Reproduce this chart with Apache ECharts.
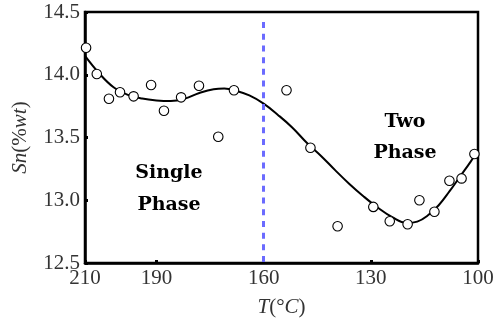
<!DOCTYPE html>
<html><head><meta charset="utf-8">
<script src="https://cdn.jsdelivr.net/npm/echarts@6/dist/echarts.min.js"></script>
<style>html,body{margin:0;padding:0;background:#fff}#c{width:493px;height:323px}</style>
</head><body><div id="c"></div>
<script>
// measured points: temperature (°C), Sn (%wt)
const pointT  = [209.7, 206.7, 203.3, 200.2, 196.4, 191.5, 187.9, 183.1, 178.1, 172.7, 168.3, 153.6, 146.9, 139.3, 129.3, 124.7, 119.7, 116.4, 112.2, 108.0, 104.6, 101.0];
const pointSn = [14.215, 14.006, 13.809, 13.86, 13.828, 13.918, 13.713, 13.82, 13.912, 13.506, 13.876, 13.876, 13.418, 12.793, 12.947, 12.833, 12.809, 13.0, 12.908, 13.155, 13.174, 13.368];
// fitted curve
const curveT  = [210, 206, 202, 198, 194, 190, 186, 182, 178, 174, 171, 168, 164, 160, 156, 152, 148, 144, 140, 136, 132, 128, 124, 120, 117, 114, 111, 108, 105, 102, 100];
const curveSn = [14.15, 14.01, 13.90, 13.84, 13.81, 13.795, 13.79, 13.81, 13.855, 13.885, 13.89, 13.875, 13.835, 13.77, 13.68, 13.58, 13.46, 13.355, 13.24, 13.13, 13.03, 12.94, 12.865, 12.82, 12.83, 12.88, 12.96, 13.07, 13.19, 13.31, 13.40];
const xTicks = [210, 190, 160, 130, 100];
const yTicks = [12.5, 13.0, 13.5, 14.0, 14.5];
const boundaryT = 160;

const chart = echarts.init(document.getElementById('c'), null, {renderer: 'canvas'});
const serif = 'Liberation Serif';
chart.setOption({
  animation: false,
  grid: {left: 85, right: 15, top: 12, bottom: 60, containLabel: false, outerBoundsMode: 'none', show: true, borderColor: '#000', borderWidth: 2.5, backgroundColor: 'transparent'},
  xAxis: {
    type: 'value', inverse: true, min: 100, max: 210,
    name: '{i|T}{n|(°}{i|C}{n|)}', nameLocation: 'middle', nameGap: 34,
    nameTextStyle: {rich: {i: {fontFamily: serif, fontStyle: 'italic', fontSize: 21, color: '#333'}, n: {fontFamily: serif, fontSize: 21, color: '#333'}}},
    axisLine: {show: true, onZero: false, lineStyle: {color: '#000', width: 2.5}},
    axisTick: {show: true, inside: true, length: 3, lineStyle: {color: '#000', width: 3}, customValues: xTicks},
    axisLabel: {customValues: xTicks, fontFamily: serif, fontSize: 21, color: '#333', margin: 5, formatter: v => String(v)},
    splitLine: {show: false}
  },
  yAxis: {
    type: 'value', min: 12.5, max: 14.5, interval: 0.5,
    name: '{i|Sn}{n|(%}{i|wt}{n|)}', nameLocation: 'middle', nameGap: 54, nameRotate: 90,
    nameTextStyle: {rich: {i: {fontFamily: serif, fontStyle: 'italic', fontSize: 21, color: '#333'}, n: {fontFamily: serif, fontSize: 21, color: '#333'}}},
    axisLine: {show: true, onZero: false, lineStyle: {color: '#000', width: 2.5}},
    axisTick: {show: true, inside: true, length: 3, lineStyle: {color: '#000', width: 3}},
    axisLabel: {fontFamily: serif, fontSize: 21, color: '#333', margin: 5, formatter: v => v.toFixed(1)},
    splitLine: {show: false}
  },
  series: [
    {
      type: 'line', data: curveT.map((t, i) => [t, curveSn[i]]), smooth: 0.4, showSymbol: false,
      lineStyle: {color: '#000', width: 2}, z: 3,
      markLine: {
        silent: true, symbol: 'none', label: {show: false},
        lineStyle: {color: '#6b6bff', type: [6, 5.7], width: 3},
        data: [[{coord: [boundaryT, 14.42]}, {coord: [boundaryT, 12.5]}]]
      }
    },
    {
      type: 'scatter', data: pointT.map((t, i) => [t, pointSn[i]]), symbol: 'circle', symbolSize: 9.5,
      itemStyle: {color: '#fff', borderColor: '#000', borderWidth: 1.1, opacity: 1}, z: 4
    }
  ],
  graphic: [
    {type: 'text', x: 169, y: 173, style: {text: 'Single', font: 'bold 19px "DejaVu Serif"', fill: '#000', align: 'center', verticalAlign: 'middle'}},
    {type: 'text', x: 169, y: 205, style: {text: 'Phase', font: 'bold 19px "DejaVu Serif"', fill: '#000', align: 'center', verticalAlign: 'middle'}},
    {type: 'text', x: 405, y: 122, style: {text: 'Two', font: 'bold 19px "DejaVu Serif"', fill: '#000', align: 'center', verticalAlign: 'middle'}},
    {type: 'text', x: 405, y: 153, style: {text: 'Phase', font: 'bold 19px "DejaVu Serif"', fill: '#000', align: 'center', verticalAlign: 'middle'}}
  ]
});
</script></body></html>
